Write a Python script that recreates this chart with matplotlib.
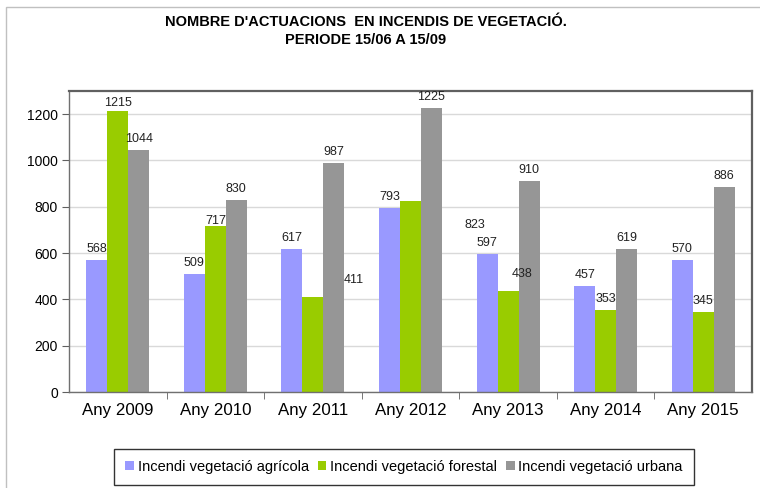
import numpy as np
import matplotlib
matplotlib.use("Agg")
import matplotlib.pyplot as plt
from matplotlib.patches import Rectangle, Patch

plt.rcParams['font.family'] = ['Liberation Sans', 'DejaVu Sans']

# Dades del gràfic
anys = ["Any 2009", "Any 2010", "Any 2011", "Any 2012", "Any 2013", "Any 2014", "Any 2015"]
series = ["Incendi vegetació agrícola", "Incendi vegetació forestal", "Incendi vegetació urbana"]
agricola = [568, 509, 617, 793, 597, 457, 570]
forestal = [1215, 717, 411, 823, 438, 353, 345]
urbana = [1044, 830, 987, 1225, 910, 619, 886]

colors = ["#9999FF", "#99CC00", "#969696"]
# desplaçament (px) de les etiquetes que l'original té fora de lloc
label_shift = {(1, 0): (0, 8), (1, 1): (0, 5), (1, 2): (41, 17),
               (1, 3): (64, -24), (1, 4): (14, 17)}

W, H = 760, 488
fig = plt.figure(figsize=(W / 100, H / 100), dpi=100)
ax = fig.add_axes([69 / W, 1 - 392 / H, 683 / W, 301 / H])

x = np.arange(len(anys))
width = 0.215
valors = [agricola, forestal, urbana]
for i, vals in enumerate(valors):
    pos = x + (i - 1) * width
    ax.bar(pos, vals, width, color=colors[i], zorder=2)
    for j, v in enumerate(vals):
        dx, dy = label_shift.get((i, j), (0, 11))
        ax.annotate(str(v), (pos[j], v), xytext=(dx, dy), textcoords='offset pixels',
                    ha='center', va='center', fontsize=9, color='#222222', zorder=3)

ax.set_xlim(-0.5, len(anys) - 0.5)
ax.set_ylim(0, 1300)
ax.set_yticks(range(0, 1201, 200))
ax.tick_params(axis='y', direction='out', length=5, labelsize=10, pad=3, color='#606060')
ax.set_xticks(x)
ax.set_xticklabels(anys, fontsize=12.2)
ax.tick_params(axis='x', which='major', length=0, pad=8)
ax.set_xticks(np.arange(0.5, len(anys) - 0.5, 1), minor=True)
ax.tick_params(axis='x', which='minor', direction='out', length=5, color='#606060')
ax.grid(axis='y', color='#D9D9D9', lw=1, zorder=0)
ax.set_axisbelow(True)

for s in ['left', 'bottom']:
    ax.spines[s].set_color('#707070')
    ax.spines[s].set_linewidth(1)
for s in ['top', 'right']:
    ax.spines[s].set_color('#606060')
    ax.spines[s].set_linewidth(1.6)

# marc exterior del gràfic
fig.add_artist(Rectangle((6 / W, -0.05), 1.2, (H - 7) / H + 0.05, transform=fig.transFigure,
                         fill=False, edgecolor='#C0C0C0', lw=1))

fig.text(366 / W, 1 - 31 / H, "NOMBRE D'ACTUACIONS  EN INCENDIS DE VEGETACIÓ.\nPERIODE 15/06 A 15/09",
         ha='center', va='center', fontsize=10.5, fontweight='bold',
         family=['Liberation Sans Narrow', 'Liberation Sans'], linespacing=1.35)

handles = [Patch(facecolor=c, edgecolor='none') for c in colors]
leg = fig.legend(handles, series, loc='center', bbox_to_anchor=(404 / W, 1 - 467 / H), ncol=3,
                 fontsize=10.5, frameon=True, fancybox=False, edgecolor='black', shadow=False,
                 handlelength=0.6, handleheight=0.6, handletextpad=0.25, columnspacing=0.6,
                 borderpad=0.75)
leg.get_frame().set_linewidth(1)

fig.savefig("out.png", dpi=100)
